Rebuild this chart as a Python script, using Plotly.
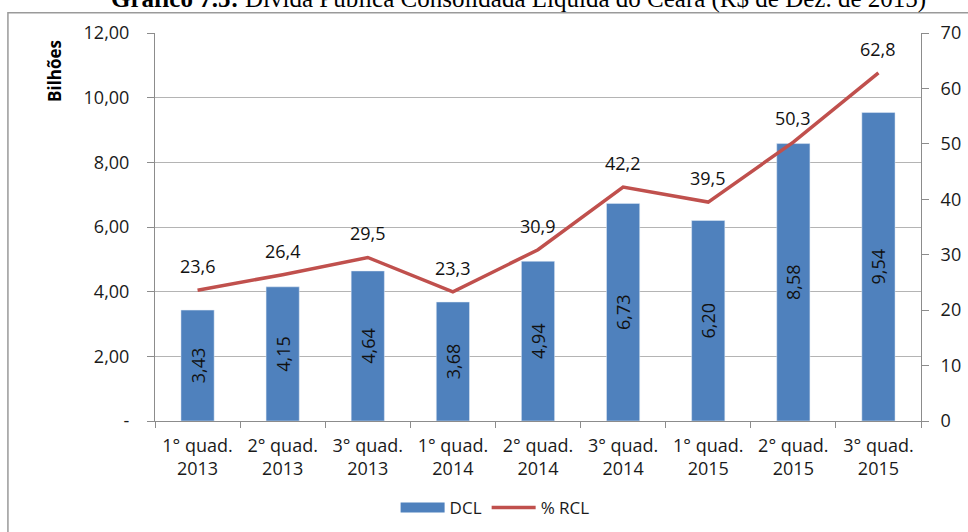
import plotly.graph_objects as go

# Quadrimestres (categories)
periodos = ["1° quad.<br>2013", "2° quad.<br>2013", "3° quad.<br>2013",
            "1° quad.<br>2014", "2° quad.<br>2014", "3° quad.<br>2014",
            "1° quad.<br>2015", "2° quad.<br>2015", "3° quad.<br>2015"]
# Dívida Consolidada Líquida, R$ bilhões
dcl = [3.43, 4.15, 4.64, 3.68, 4.94, 6.73, 6.20, 8.58, 9.54]
# DCL como % da Receita Corrente Líquida
rcl_pct = [23.6, 26.4, 29.5, 23.3, 30.9, 42.2, 39.5, 50.3, 62.8]

left_ticks = [0, 2, 4, 6, 8, 10, 12]
left_ticktext = ["-", "2,00", "4,00", "6,00", "8,00", "10,00", "12,00"]
right_ticks = [0, 10, 20, 30, 40, 50, 60, 70]

def br(v, nd):
    return f"{v:.{nd}f}".replace(".", ",")

FONT = "Open Sans"
BLUE = "#4F81BD"
RED = "#C0504D"
GRID = "#B4B4B4"
AXIS = "#8C8C8C"
TXT = "#1A1A1A"

fig = go.Figure()
fig.add_trace(go.Bar(
    x=periodos, y=dcl, name="DCL", marker_color=BLUE, showlegend=False,
    legendgroup="dcl",
    text=[br(v, 2) for v in dcl], textposition="inside",
    insidetextanchor="middle", textangle=-90,
    textfont=dict(family=FONT, size=18, color="#111111"),
    constraintext="none", cliponaxis=False,
))
# wide rectangular legend key for the bars
fig.add_trace(go.Scatter(
    x=[None], y=[None], name="DCL", mode="lines", legendgroup="dcl",
    line=dict(color=BLUE, width=10),
))
fig.add_trace(go.Scatter(
    x=periodos, y=rcl_pct, name="% RCL", yaxis="y2", mode="lines",
    line=dict(color=RED, width=3.5),
))

annotations = [
    dict(x=p, y=v, xref="x", yref="y2", text=br(v, 1), showarrow=False,
         yshift=24, font=dict(family=FONT, size=18, color="#111111"))
    for p, v in zip(periodos, rcl_pct)
]
annotations.append(dict(
    x=-0.132, y=0.987, xref="paper", yref="paper", text="<b>Bilhões</b>",
    textangle=-90, showarrow=False, xanchor="center", yanchor="top",
    font=dict(family=FONT, size=17, color="#000000"),
))
annotations.append(dict(
    x=0.474, y=1.087, xref="paper", yref="paper",
    text="<b>Gráfico 7.5:</b> Dívida Pública Consolidada Líquida do Ceará (R$ de Dez. de 2015)",
    showarrow=False, xanchor="center", yanchor="middle",
    font=dict(family="Liberation Serif", size=25, color="#000000"),
))

fig.update_layout(
    width=968, height=532,
    margin=dict(l=155, r=47, t=33, b=111, autoexpand=False),
    paper_bgcolor="white", plot_bgcolor="white",
    bargap=0.61, showlegend=True,
    legend=dict(orientation="h", x=0.444, xanchor="center",
                yref="container", y=0.045, yanchor="middle",
                itemwidth=44, tracegroupgap=0,
                font=dict(family=FONT, size=17, color=TXT)),
    annotations=annotations,
    shapes=[dict(type="path", xref="paper", yref="paper",
                 path="M -0.192,-0.4 L -0.192,1.052 L 1.2,1.052",
                 line=dict(color="#9A9A9A", width=1.5))],
    xaxis=dict(
        showgrid=False, showline=True, linecolor=AXIS, linewidth=1,
        ticks="outside", tickson="boundaries", ticklen=6, tickcolor=AXIS,
        tickfont=dict(family=FONT, size=18, color=TXT),
        ticklabelstandoff=8,
    ),
    yaxis=dict(
        range=[0, 12], tickvals=left_ticks, ticktext=left_ticktext,
        showgrid=True, gridcolor=GRID, gridwidth=1,
        showline=True, linecolor=AXIS, linewidth=1,
        ticks="outside", ticklen=7, tickcolor=AXIS, zeroline=False,
        tickfont=dict(family=FONT, size=18, color=TXT),
        ticklabelstandoff=14,
    ),
    yaxis2=dict(
        range=[0, 70], tickvals=right_ticks, overlaying="y", side="right",
        showgrid=False, showline=True, linecolor=AXIS, linewidth=1,
        ticks="outside", ticklen=7, tickcolor=AXIS, zeroline=False,
        tickfont=dict(family=FONT, size=18, color=TXT),
        ticklabelstandoff=8,
    ),
)

fig.write_html("out.html")
